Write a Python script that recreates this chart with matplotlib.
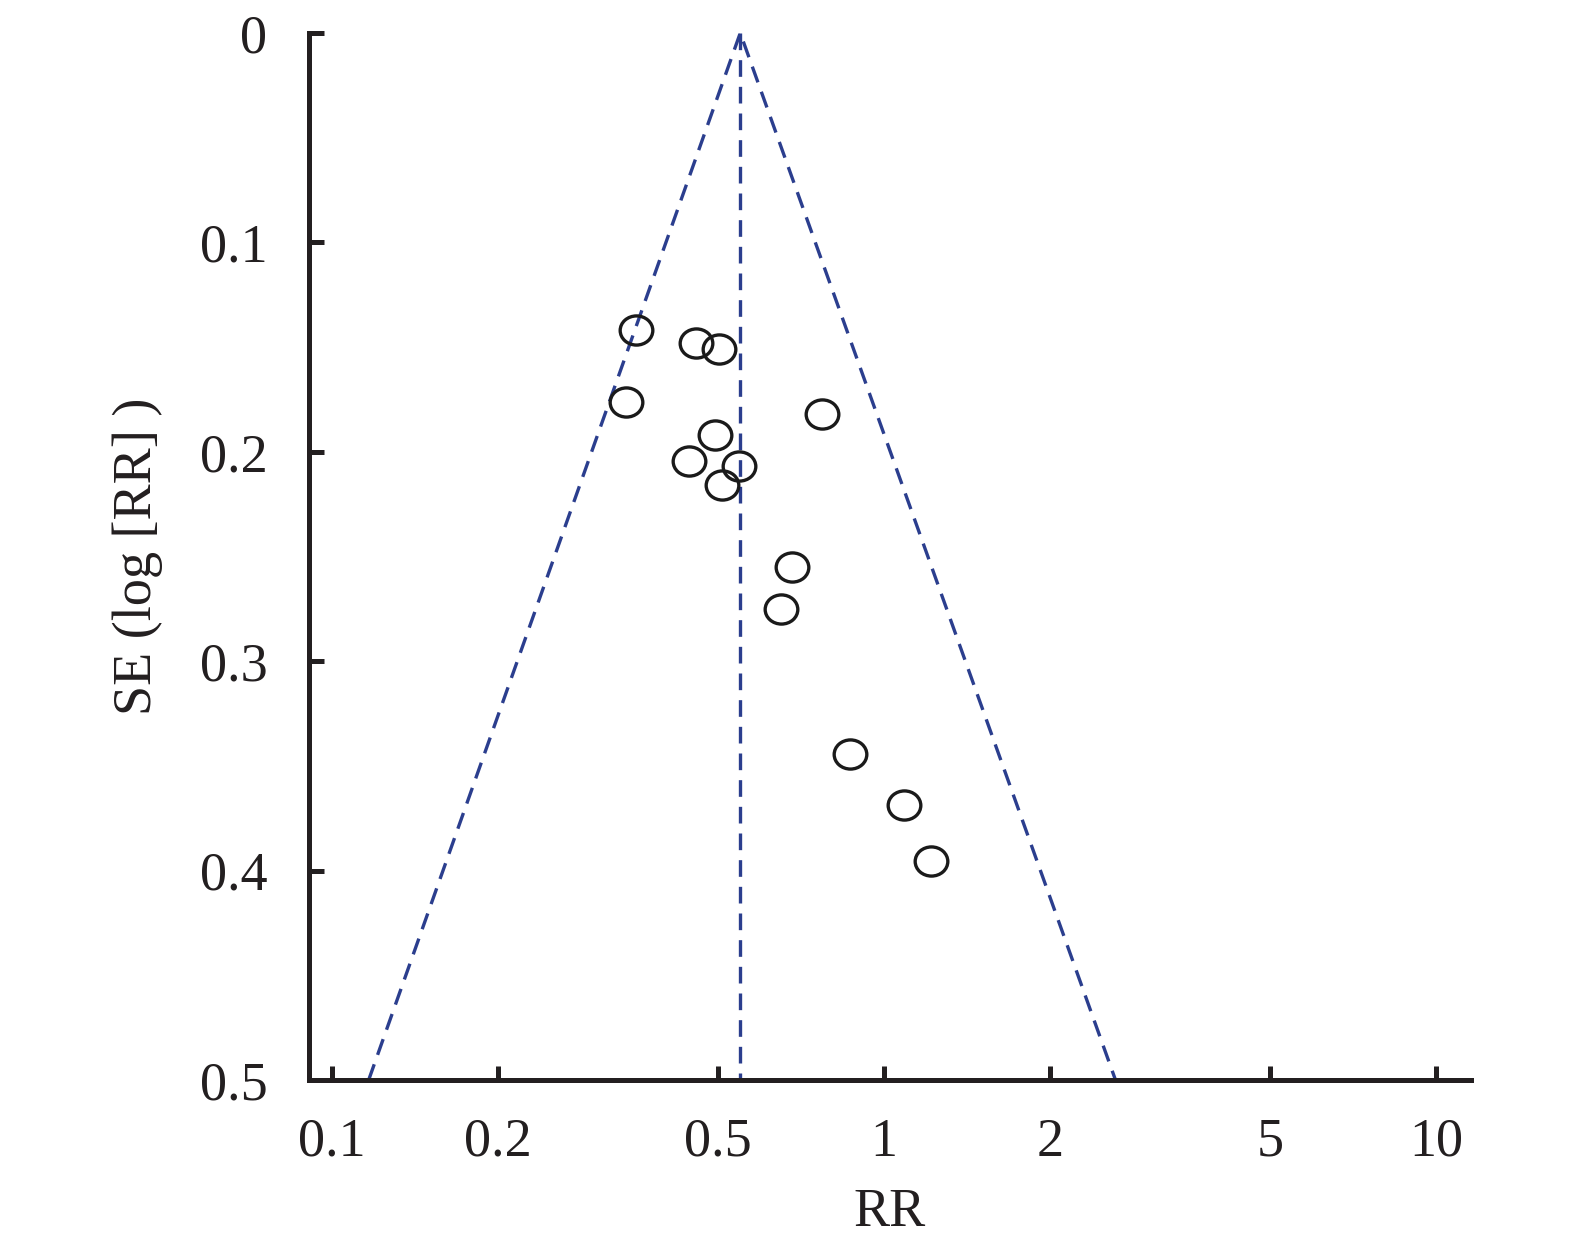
import matplotlib
matplotlib.use("Agg")
import matplotlib.pyplot as plt
import numpy as np
from matplotlib.path import Path
from matplotlib.ticker import FixedLocator, NullLocator

# study estimates (RR) and their standard errors of log RR
rr = [0.356, 0.456, 0.502, 0.341, 0.773, 0.495, 0.444, 0.546, 0.509,
      0.681, 0.651, 0.869, 1.089, 1.215]
se = [0.142, 0.148, 0.151, 0.176, 0.182, 0.192, 0.2045, 0.207, 0.216,
      0.255, 0.275, 0.3445, 0.3685, 0.3954]

# pooled estimate and funnel limits at the largest SE
pooled = 0.5495
funnel_se = 0.5
funnel_lo = 0.1167
funnel_hi = 2.627

xticks = [0.1, 0.2, 0.5, 1, 2, 5, 10]
xticklabels = ["0.1", "0.2", "0.5", "1", "2", "5", "10"]
yticks = [0, 0.1, 0.2, 0.3, 0.4, 0.5]
yticklabels = ["0", "0.1", "0.2", "0.3", "0.4", "0.5"]

serif = ["Liberation Serif", "DejaVu Serif"]
plt.rcParams['font.family'] = serif

fig = plt.figure(figsize=(15.75, 12.51), dpi=100)
ax = fig.add_axes([0.1962, 0.1367, 0.934 - 0.1962, 0.9736 - 0.1367])

blue = "#2b3e8e"
ax.plot([funnel_lo, pooled, funnel_hi], [funnel_se, 0, funnel_se],
        color=blue, lw=2.4, dashes=(5, 3))
ax.plot([pooled, pooled], [0, funnel_se], color=blue, lw=2.4, dashes=(5, 3))

# slightly wide ellipse markers
circ = Path.unit_circle()
ell = Path(circ.vertices * np.array([1.12, 1.0]), circ.codes)
ax.plot(rr, se, linestyle="none", marker=ell, markersize=23.5,
        markerfacecolor="none", markeredgecolor="#1a1a1a", markeredgewidth=2.4)

ax.set_xscale("log")
ax.set_xlim(0.091, 11.57)
ax.set_ylim(0.5, 0)

ax.xaxis.set_major_locator(FixedLocator(xticks))
ax.xaxis.set_minor_locator(NullLocator())
ax.set_xticklabels(xticklabels)
ax.set_yticks(yticks)
ax.set_yticklabels(yticklabels)

for s in ["top", "right"]:
    ax.spines[s].set_visible(False)
for s in ["left", "bottom"]:
    ax.spines[s].set_linewidth(3.6)
    ax.spines[s].set_color("#231f20")

ax.tick_params(axis="x", direction="in", length=10, width=3.6, color="#231f20",
               labelsize=39, pad=27, labelcolor="#231f20")
ax.tick_params(axis="y", direction="in", length=11, width=3.6, color="#231f20",
               labelsize=39, pad=30, labelcolor="#231f20")

ax.set_xlabel("RR", fontsize=39, color="#231f20", labelpad=14)
ax.set_ylabel("SE (log [RR] )", fontsize=39, color="#231f20", labelpad=26)

fig.savefig("out.png", dpi=100)
